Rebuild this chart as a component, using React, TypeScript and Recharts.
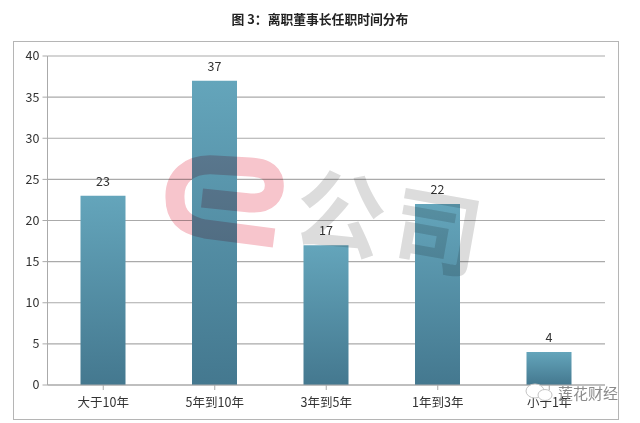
import React from "react";
import { BarChart, Bar, XAxis, YAxis, CartesianGrid, LabelList } from "recharts";

const categories = ["大于10年", "5年到10年", "3年到5年", "1年到3年", "小于1年"];
const counts = [23, 37, 17, 22, 4];
const yTicks = [0, 5, 10, 15, 20, 25, 30, 35, 40];
const titleText = "图 3：离职董事长任职时间分布";
const data = categories.map((name, i) => ({ name, value: counts[i] }));

const FONT = '"Noto Sans CJK SC", "Liberation Sans", sans-serif';
const tick = { fill: "#333", fontSize: 12.5, fontFamily: FONT };

export default function App() {
  return (
    <div style={{ position: "absolute", left: 0, top: 0, width: 640, height: 423, background: "#fff", overflow: "hidden", fontFamily: FONT }}>
      <div style={{ position: "absolute", left: 0, width: 640, top: 10, textAlign: "center", fontSize: 12.8, fontWeight: 700, color: "#222", lineHeight: "18px" }}>{titleText}</div>
      <div style={{ position: "absolute", left: 13, top: 41, width: 606, height: 379, border: "1px solid #b5b5b5", boxSizing: "border-box" }} />
      <div style={{ position: "absolute", left: 0, top: 0 }}>
        <BarChart width={640} height={423} data={data} margin={{ top: 56, right: 35, bottom: 8, left: 15 }} barSize={45}>
          <defs>
            <linearGradient id="barFill" x1="0" y1="0" x2="0" y2="1">
              <stop offset="0%" stopColor="#64a5bb" />
              <stop offset="100%" stopColor="#44788f" />
            </linearGradient>
          </defs>
          <CartesianGrid vertical={false} stroke="#aaaaaa" strokeWidth={1.2} />
          <XAxis dataKey="name" height={30} stroke="#aaaaaa" tickLine={{ stroke: "#aaaaaa" }} tickSize={5} tick={tick} tickMargin={8} interval={0} />
          <YAxis width={32.5} domain={[0, 40]} ticks={yTicks} stroke="#aaaaaa" tickLine={{ stroke: "#aaaaaa" }} tickSize={5} tick={tick} tickMargin={3} />
          <Bar dataKey="value" fill="url(#barFill)" isAnimationActive={false}>
            <LabelList dataKey="value" position="top" offset={10} fill="#333" fontSize={12.5} fontFamily={FONT} />
          </Bar>
        </BarChart>
      </div>
      <svg width={640} height={423} style={{ position: "absolute", left: 0, top: 0, mixBlendMode: "multiply" }}>
        <path d="M202 198 L250 203 C268 204 276 195 274 182 C272 170 262 168 250 167 L215 165 C188 163 174 178 175 198 C175 218 188 226 205 229 L274 238" fill="none" stroke="#f7c5cc" strokeWidth={19} />
        <text x={340} y={247} fontSize={90} fontWeight={700} fill="#dcdcdc" textAnchor="middle" transform="rotate(10 340 217)" fontFamily={FONT}>公</text>
        <text x={436} y={265} fontSize={90} fontWeight={700} fill="#dcdcdc" textAnchor="middle" transform="rotate(10 436 235)" fontFamily={FONT}>司</text>
      </svg>
      <div style={{ position: "absolute", left: 558, top: 384, fontSize: 15, color: "#8a8a8a", lineHeight: "18px" }}>莲花财经</div>
      <svg width={640} height={423} style={{ position: "absolute", left: 0, top: 0 }}>
        <ellipse cx={535} cy={391} rx={9} ry={7} fill="#fff" stroke="#c4c4c4" />
        <ellipse cx={545} cy={395} rx={7} ry={5.5} fill="#fff" stroke="#c4c4c4" />
      </svg>
    </div>
  );
}
